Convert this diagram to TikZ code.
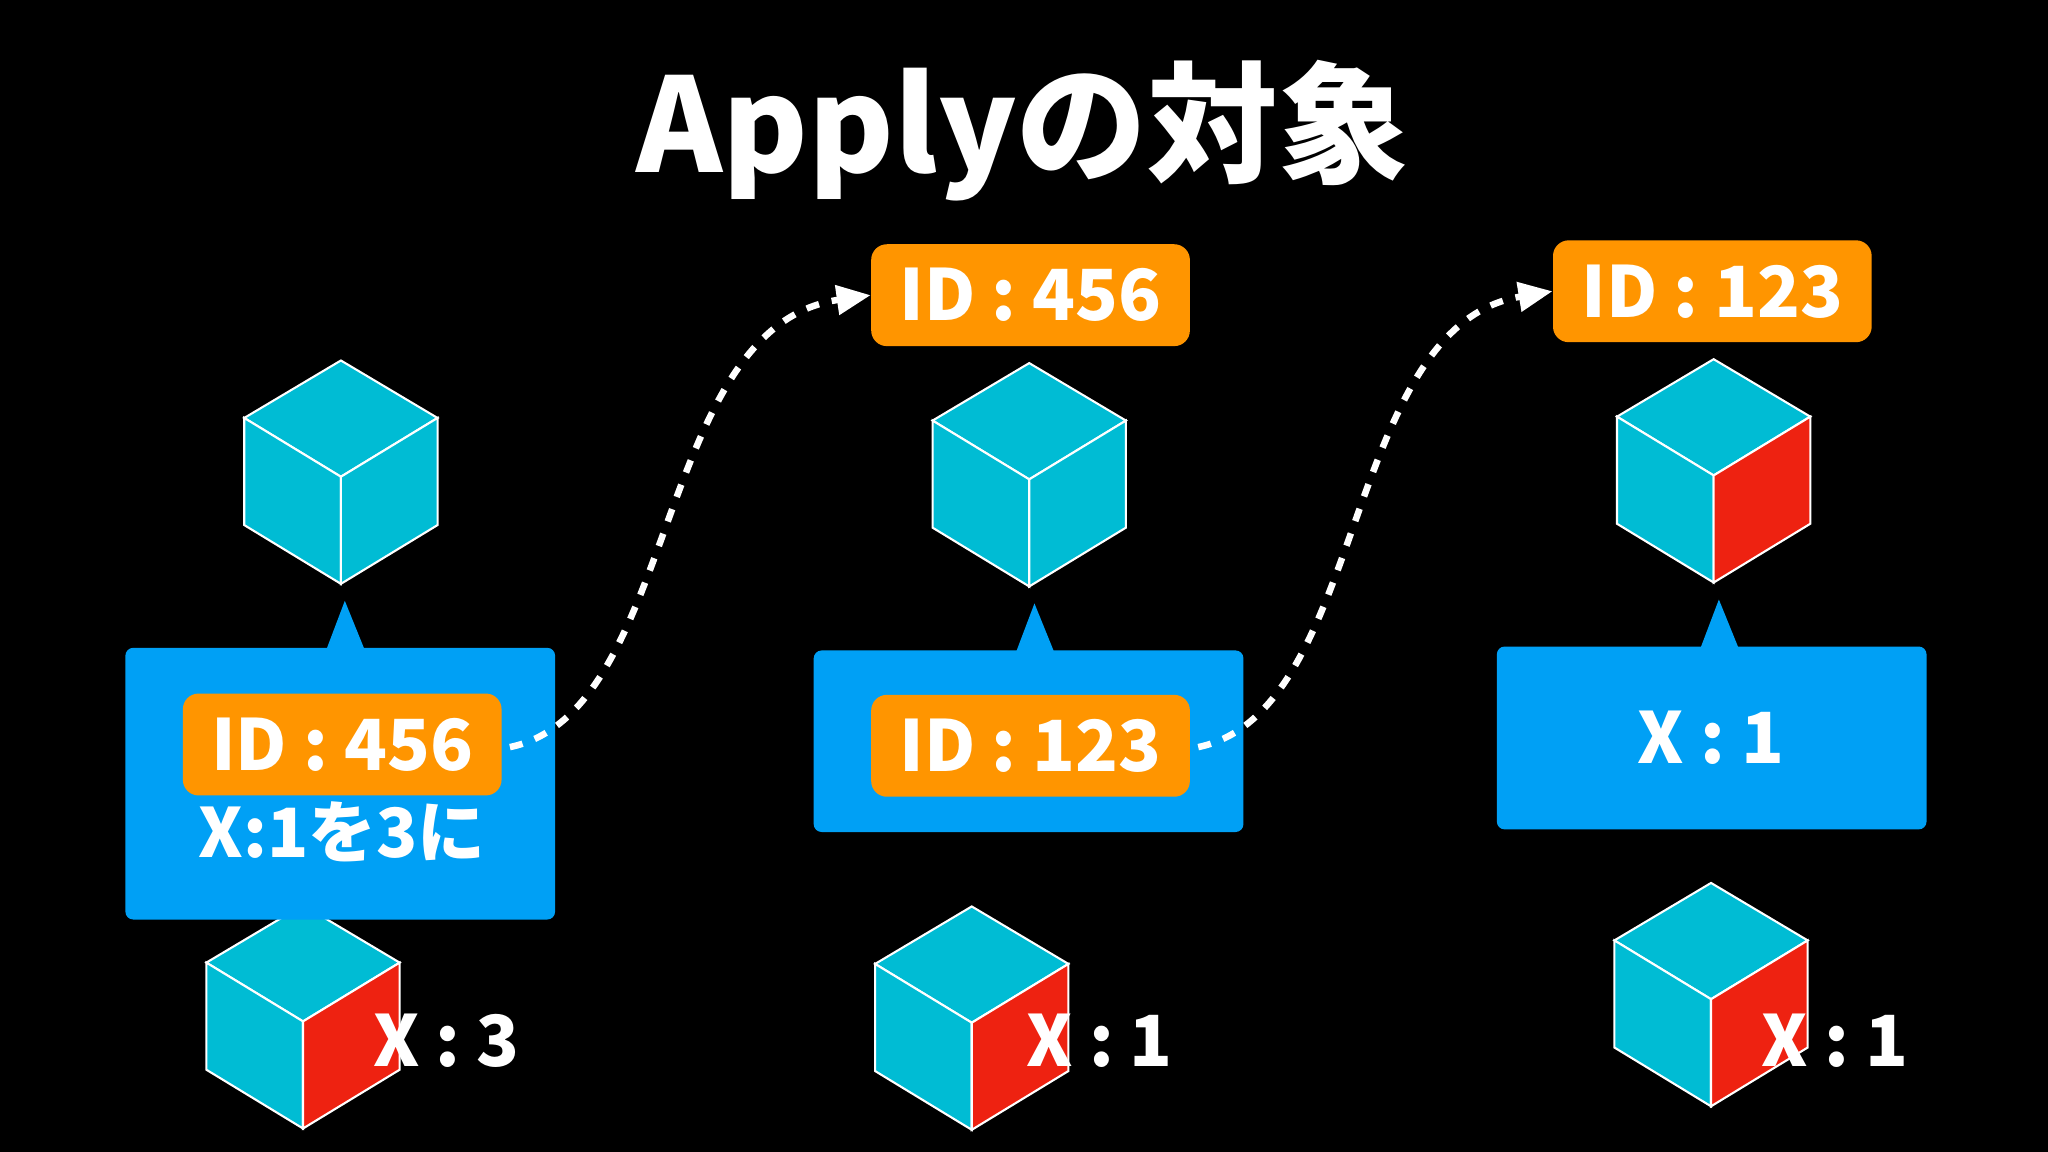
\documentclass[tikz,border=0pt]{standalone}
\usepackage{fontspec}
\setmainfont{Noto Sans CJK JP}
\usetikzlibrary{arrows.meta}
\definecolor{cy}{HTML}{00BCD4}
\definecolor{rd}{HTML}{EE2211}
\definecolor{bl}{HTML}{00A0F5}
\definecolor{og}{HTML}{FF9500}
\begin{document}
\begin{tikzpicture}[x=0.5pt,y=-0.5pt,
  cube/.pic={
    \filldraw[draw=white,line width=0.8pt,fill=cy] (0,0)--(-74,44)--(0,89)--(74,44)--cycle;
    \filldraw[draw=white,line width=0.8pt,fill=cy] (-74,44)--(0,89)--(0,171)--(-74,126)--cycle;
    \filldraw[draw=white,line width=0.8pt,fill=\cuberight] (74,44)--(0,89)--(0,171)--(74,126)--cycle;
  },
  box/.style={fill=bl},
  tag/.style={fill=og,rounded corners=6pt,text=white,font=\bfseries\fontsize{27}{30}\selectfont,minimum width=122pt,minimum height=39pt,inner sep=0pt},
  lbl/.style={text=white,font=\bfseries\fontsize{27}{30}\selectfont},
  link/.style={white,line width=2.5pt,dash pattern=on 5pt off 5pt,-{Triangle[length=13pt,width=11pt]}}]
\fill[black] (0,0) rectangle (1568,882);
\node[text=white,font=\bfseries\fontsize{50}{56}\selectfont] (title) at (783,100) {Applyの対象};
% cubes
\def\cuberight{cy}
\pic at (261,276) {cube};
\pic at (788,278) {cube};
\def\cuberight{rd}
\pic at (1312,275) {cube};
\pic at (232,693) {cube};
\pic at (744,694) {cube};
\pic at (1310,676) {cube};
% callout boxes
\fill[box,rounded corners=3pt] (96,496) rectangle (425,704);
\fill[box] (250,497)--(264,460)--(279,497)--cycle;
\fill[box,rounded corners=3pt] (623,498) rectangle (952,637);
\fill[box] (778,499)--(792,462)--(807,499)--cycle;
\fill[box,rounded corners=3pt] (1146,495) rectangle (1475,635);
\fill[box] (1302,496)--(1316,459)--(1331,496)--cycle;
% tags
\node[tag] (t1) at (262,570) {ID : 456};
\node[tag] (t2) at (789,571) {ID : 123};
\node[tag] (t3) at (789,226) {ID : 456};
\node[tag] (t4) at (1311,223) {ID : 123};
\node[lbl,font=\bfseries\fontsize{26}{30}\selectfont] (n1) at (262,637) {X:1を3に};
\node[lbl] (n2) at (1310,565) {X : 1};
\node[lbl] (l1) at (342,797) {X : 3};
\node[lbl] (l2) at (842,797) {X : 1};
\node[lbl] (l3) at (1405,797) {X : 1};
% links
\draw[link] (t1.east)++(6,2) .. controls (520,545) and (500,250) .. (t3.west);
\draw[link] (t2.east)++(6,1) .. controls (1047,545) and (1027,250) .. (t4.west);
\end{tikzpicture}
\end{document}
